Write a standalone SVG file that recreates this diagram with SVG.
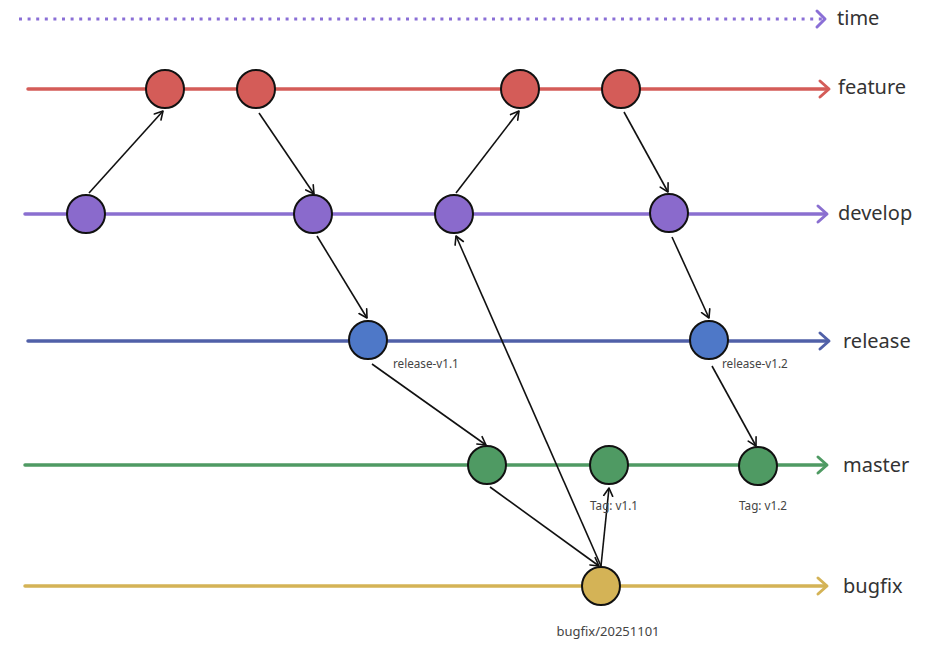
<svg xmlns="http://www.w3.org/2000/svg" width="925" height="645" viewBox="0 0 925 645">
<style>
.br{fill:none;stroke-width:3.5;stroke-linecap:round}
.head{fill:none;stroke-width:3;stroke-linecap:round;stroke-linejoin:round}
.node{stroke:#111;stroke-width:2}
.lbl{font-family:"Noto Sans","Liberation Sans",sans-serif;font-size:20px;fill:#333}
.sm{font-family:"Noto Sans","Liberation Sans",sans-serif;font-size:11.7px;fill:#444}
.c{fill:none;stroke:#111;stroke-width:1.6}
</style>
<defs>
<marker id="ah" markerUnits="userSpaceOnUse" markerWidth="14" markerHeight="14" refX="9" refY="5" orient="auto" viewBox="0 0 14 10">
<path d="M1,0.5 L9,5 L1,9.5" fill="none" stroke="#111" stroke-width="1.6" stroke-linejoin="round" stroke-linecap="round"/>
</marker>
</defs>
<g id="time">
<line x1="19" y1="19" x2="822" y2="19" stroke="#8a6fd6" stroke-width="3" stroke-dasharray="3 5.6"/>
<path class="head" d="M817,11 L825,19 L817,27" stroke="#8a6fd6"/>
<text class="lbl" x="837" y="25">time</text>
</g>
<g id="branches">
<g id="feature-line"><line class="br" x1="28" y1="89" x2="828" y2="89" stroke="#d45c58"/><path class="head" d="M820,81 L829,89 L820,97" stroke="#d45c58"/><text class="lbl" x="838" y="94">feature</text></g>
<g id="develop-line"><line class="br" x1="25" y1="214" x2="826" y2="214" stroke="#8a6fd0"/><path class="head" d="M818,206 L827,214 L818,222" stroke="#8a6fd0"/><text class="lbl" x="838" y="220">develop</text></g>
<g id="release-line"><line class="br" x1="28" y1="341" x2="828" y2="341" stroke="#5060a8"/><path class="head" d="M820,333 L829,341 L820,349" stroke="#5060a8"/><text class="lbl" x="843" y="348">release</text></g>
<g id="master-line"><line class="br" x1="25" y1="465" x2="826" y2="465" stroke="#4f9a63"/><path class="head" d="M818,457 L827,465 L818,473" stroke="#4f9a63"/><text class="lbl" x="843" y="472">master</text></g>
<g id="bugfix-line"><line class="br" x1="25" y1="586" x2="826" y2="586" stroke="#d4b356"/><path class="head" d="M818,578 L827,586 L818,594" stroke="#d4b356"/><text class="lbl" x="843" y="593">bugfix</text></g>
</g>
<g id="connectors">
<line class="c" x1="89" y1="193" x2="163" y2="111" marker-end="url(#ah)"/>
<line class="c" x1="259" y1="113" x2="314" y2="194" marker-end="url(#ah)"/>
<line class="c" x1="317" y1="236" x2="367" y2="318" marker-end="url(#ah)"/>
<line class="c" x1="456" y1="193" x2="519" y2="111" marker-end="url(#ah)"/>
<line class="c" x1="624" y1="112" x2="668" y2="192" marker-end="url(#ah)"/>
<line class="c" x1="672" y1="237" x2="709" y2="318" marker-end="url(#ah)"/>
<line class="c" x1="372" y1="364" x2="486" y2="445" marker-end="url(#ah)"/>
<line class="c" x1="712" y1="366" x2="756" y2="446" marker-end="url(#ah)"/>
<line class="c" x1="490" y1="487" x2="599" y2="566" marker-end="url(#ah)"/>
<line class="c" x1="601" y1="566" x2="456" y2="236" marker-end="url(#ah)"/>
<line class="c" x1="601" y1="566" x2="609" y2="488" marker-end="url(#ah)"/>
</g>
<g id="f1"><circle class="node" cx="165" cy="89" r="19" fill="#d45c58"/></g>
<g id="f2"><circle class="node" cx="256" cy="89" r="19" fill="#d45c58"/></g>
<g id="f3"><circle class="node" cx="520" cy="89" r="19" fill="#d45c58"/></g>
<g id="f4"><circle class="node" cx="621" cy="89" r="19" fill="#d45c58"/></g>
<g id="d1"><circle class="node" cx="86" cy="214" r="19" fill="#8a6acc"/></g>
<g id="d2"><circle class="node" cx="313" cy="214" r="19" fill="#8a6acc"/></g>
<g id="d3"><circle class="node" cx="454" cy="214" r="19" fill="#8a6acc"/></g>
<g id="d4"><circle class="node" cx="669" cy="213" r="19" fill="#8a6acc"/></g>
<g id="r1"><circle class="node" cx="368" cy="340" r="19" fill="#4e78c8"/><text class="sm" x="393" y="368">release-v1.1</text></g>
<g id="r2"><circle class="node" cx="709" cy="340" r="19" fill="#4e78c8"/><text class="sm" x="722" y="368">release-v1.2</text></g>
<g id="m1"><circle class="node" cx="487" cy="465" r="19" fill="#4f9a63"/></g>
<g id="m2"><circle class="node" cx="609" cy="465" r="19" fill="#4f9a63"/><text class="sm" x="614" y="510" text-anchor="middle">Tag: v1.1</text></g>
<g id="m3"><circle class="node" cx="758" cy="466" r="19" fill="#4f9a63"/><text class="sm" x="763" y="510" text-anchor="middle">Tag: v1.2</text></g>
<g id="b1"><circle class="node" cx="601" cy="586" r="19" fill="#d4b356"/><text class="sm" x="608" y="636" text-anchor="middle" style="font-size:13px">bugfix/20251101</text></g>
</svg>
